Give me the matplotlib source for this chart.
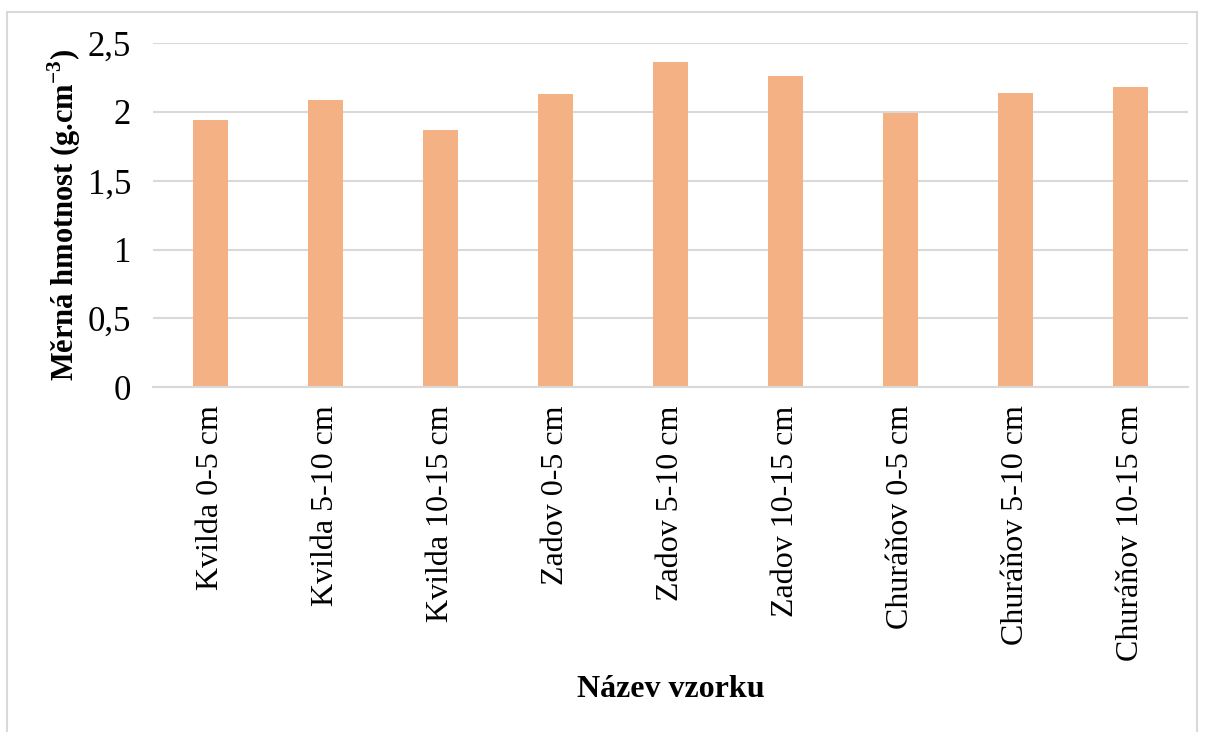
import matplotlib
matplotlib.use("Agg")
import matplotlib.pyplot as plt
from matplotlib.patches import Rectangle
import numpy as np

plt.rcParams["font.family"] = ["Liberation Serif", "DejaVu Serif"]
plt.rcParams["mathtext.fontset"] = "custom"
plt.rcParams["mathtext.rm"] = "Liberation Serif"
plt.rcParams["mathtext.bf"] = "Liberation Serif:bold"

samples = ["Kvilda 0-5 cm", "Kvilda 5-10 cm", "Kvilda 10-15 cm",
           "Zadov 0-5 cm", "Zadov 5-10 cm", "Zadov 10-15 cm",
           "Churáňov 0-5 cm", "Churáňov 5-10 cm", "Churáňov 10-15 cm"]
density = [1.94, 2.09, 1.87, 2.13, 2.36, 2.26, 1.99, 2.14, 2.18]
yticks = [0, 0.5, 1, 1.5, 2, 2.5]
ytick_labels = ["0", "0,5", "1", "1,5", "2", "2,5"]

fig = plt.figure(figsize=(12.06, 7.32), dpi=100)
ax = fig.add_axes([0.127, 0.471, 0.858, 0.47])

x = np.arange(len(samples))
ax.bar(x, density, width=0.31, color="#F4B183", zorder=2)

ax.set_xlim(-0.5, len(samples) - 0.5)
ax.set_ylim(0, 2.5)
ax.set_yticks(yticks)
ax.set_yticklabels(ytick_labels, fontsize=25)
ax.set_xticks(x)
ax.set_xticklabels(samples, rotation=90, fontsize=23)
ax.tick_params(length=0)
ax.tick_params(axis="x", pad=13)
ax.tick_params(axis="y", pad=16)
ax.grid(axis="y", color="#d9d9d9", linewidth=1.5, zorder=0)
for s in ["top", "right", "left"]:
    ax.spines[s].set_visible(False)
ax.spines["bottom"].set_color("#d9d9d9")
ax.spines["bottom"].set_linewidth(1.5)

ax.set_ylabel(r"Měrná hmotnost (g.cm$^{\mathbf{-3}}$)", fontsize=22,
              fontweight="bold", labelpad=3)
ax.set_xlabel("Název vzorku", fontsize=23, fontweight="bold", labelpad=10)

fig.patches.append(Rectangle((7 / 1206, -0.1), 1190 / 1206, 1.1 - 12 / 732,
                             transform=fig.transFigure, fill=False,
                             edgecolor="#d9d9d9", linewidth=1.5))

fig.savefig("out.png", dpi=100)
